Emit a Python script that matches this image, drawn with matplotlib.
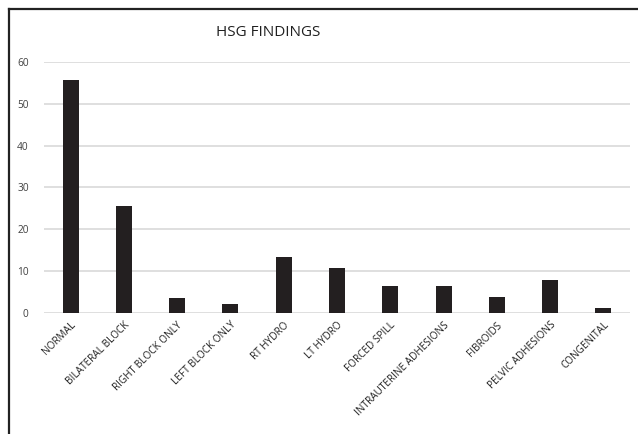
import matplotlib
matplotlib.use("Agg")
import matplotlib.pyplot as plt
from matplotlib.lines import Line2D

plt.rcParams['font.family'] = ['Open Sans', 'DejaVu Sans']

categories = ["NORMAL", "BILATERAL BLOCK", "RIGHT BLOCK ONLY", "LEFT BLOCK ONLY",
              "RT HYDRO", "LT HYDRO", "FORCED SPILL", "INTRAUTERINE ADHESIONS",
              "FIBROIDS", "PELVIC ADHESIONS", "CONGENITAL"]
values = [55.6, 25.5, 3.5, 2.1, 13.4, 10.6, 6.5, 6.5, 3.8, 7.9, 1.2]
yticks = [0, 10, 20, 30, 40, 50, 60]

W, H = 638, 434
fig = plt.figure(figsize=(W / 100, H / 100), dpi=100)
ax = fig.add_axes([44 / W, 1 - 312.7 / H, (630 - 44) / W, (312.7 - 62) / H])

x = list(range(len(categories)))
ax.bar(x, values, width=0.3, color="#231f20", zorder=3)
ax.set_xlim(-0.5, len(categories) - 0.5)
ax.set_ylim(0, 60)
ax.set_yticks(yticks)
ax.set_yticklabels([str(t) for t in yticks], fontsize=7.3, color="#404040")
ax.yaxis.grid(True, color="#d9d9d9", linewidth=1.2, zorder=0)
ax.set_axisbelow(True)
for s in ax.spines.values():
    s.set_visible(False)
ax.tick_params(axis="both", length=0)
ax.tick_params(axis="y", pad=11)
ax.set_xticks(x)
ax.set_xticklabels(categories, fontsize=7.2, color="#202020", rotation=45,
                   ha="right", rotation_mode="anchor")
ax.tick_params(axis="x", pad=5)

fig.text(268 / W, 1 - 33 / H, "HSG FINDINGS", fontsize=11, color="#202020",
         ha="center", va="center")

# outer frame (left and top edges)
fig.add_artist(Line2D([8.5 / W, 8.5 / W], [0, 1 - 9 / H], color="#222222",
                      linewidth=1.6, transform=fig.transFigure))
fig.add_artist(Line2D([8.5 / W, 1], [1 - 9 / H, 1 - 9 / H], color="#222222",
                      linewidth=1.6, transform=fig.transFigure))

fig.savefig("out.png", dpi=100)
